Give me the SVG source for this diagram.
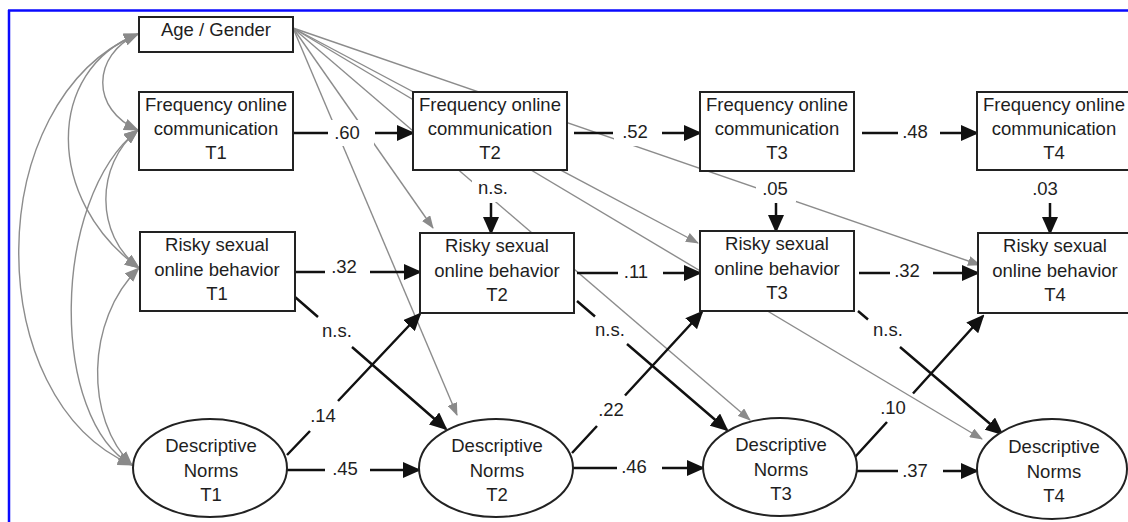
<svg xmlns="http://www.w3.org/2000/svg" width="1128" height="522" viewBox="0 0 1128 522">
<style>
.box{fill:#fff;stroke:#222;stroke-width:2}
.t{font-family:"Liberation Sans",Arial,sans-serif;font-size:18.5px;fill:#1e1e1e;text-anchor:middle}
.b{fill:none;stroke:#111;stroke-width:2.5;marker-end:url(#ab)}
.g{fill:none;stroke:#8c8c8c;stroke-width:1.4;marker-end:url(#ag)}
.c{fill:none;stroke:#8c8c8c;stroke-width:1.4;marker-start:url(#ac);marker-end:url(#ac)}
.bg{fill:#fff}
</style>
<defs>
<marker id="ab" viewBox="0 0 18 16" markerWidth="18" markerHeight="16" refX="16" refY="8" orient="auto" markerUnits="userSpaceOnUse"><path d="M0,0 L18,8 L0,16 z" fill="#111"/></marker>
<marker id="ag" viewBox="0 0 13 10" markerWidth="13" markerHeight="10" refX="12" refY="5" orient="auto" markerUnits="userSpaceOnUse"><path d="M0,0 L13,5 L0,10 z" fill="#8a8a8a"/></marker>
<marker id="ac" viewBox="0 0 15 12" markerWidth="15" markerHeight="12" refX="14" refY="6" orient="auto-start-reverse" markerUnits="userSpaceOnUse"><path d="M0,0 L15,6 L0,12 z" fill="#8a8a8a"/></marker>
</defs>
<rect width="1128" height="522" fill="#fff"/>
<path d="M8,10.5 H1128 M9,10 V522" fill="none" stroke="#0a0aff" stroke-width="2.5"/>
<g id="connectors">
  <path class="c" d="M138,34 C91,55 91,110 138,130"/>
  <path class="c" d="M138,34 C45,70 45,200 139,268"/>
  <path class="c" d="M138,34 C-20,100 -20,400 132,465"/>
  <path class="c" d="M138,130 C95,165 95,235 139,268"/>
  <path class="c" d="M138,130 C50,200 50,420 132,465"/>
  <path class="c" d="M139,268 C85,320 85,420 132,465"/>
  <path class="g" d="M293,28 L433,228"/>
  <path class="g" d="M293,28 L457,415"/>
  <path class="g" d="M293,28 L698,243"/>
  <path class="g" d="M293,28 L750,420"/>
  <path class="g" d="M293,28 L980,265"/>
  <path class="g" d="M293,28 L982,439"/>
  <rect class="bg" x="329" y="120" width="45" height="26"/>
  <rect class="bg" x="614" y="120" width="47" height="26"/>
  <rect class="bg" x="472" y="176" width="42" height="26"/>
  <rect class="bg" x="756" y="176" width="40" height="26"/>
  <path class="b" d="M293,133 H328 M375,133 H413"/>
  <path class="b" d="M574,133 H613 M662,133 H700"/>
  <path class="b" d="M862,133 H898 M940,133 H977"/>
  <path class="b" d="M295,272 H325 M370,272 H420"/>
  <path class="b" d="M577,273 H618 M663,273 H700"/>
  <path class="b" d="M859,273 H890 M933,273 H978"/>
  <path class="b" d="M287,470 H325 M370,470 H419"/>
  <path class="b" d="M573,468 H617 M662,468 H703"/>
  <path class="b" d="M857,471 H898 M943,471 H977"/>
  <path class="b" d="M491,203 V233"/>
  <path class="b" d="M776,203 V231"/>
  <path class="b" d="M1050,203 V233"/>
  <path class="b" d="M295,297 L318,317 M352,347 L446,429"/>
  <path class="b" d="M287,455 L310,431 M338,401 L420,314"/>
  <path class="b" d="M577,301 L595,316.5 M627,344 L727,430"/>
  <path class="b" d="M572,453 L597,426 M625,395.5 L702,312"/>
  <path class="b" d="M858,311 L868,319.5 M900,347 L1002,434"/>
  <path class="b" d="M855,457 L887,422 M913,393.5 L983,316"/>
  <text class="t" x="347" y="139">.60</text>
  <text class="t" x="635" y="138">.52</text>
  <text class="t" x="915" y="138">.48</text>
  <text class="t" x="344" y="273">.32</text>
  <text class="t" x="636" y="278">.11</text>
  <text class="t" x="907" y="277">.32</text>
  <text class="t" x="345" y="475">.45</text>
  <text class="t" x="634" y="473">.46</text>
  <text class="t" x="915" y="477">.37</text>
  <text class="t" x="493" y="194">n.s.</text>
  <text class="t" x="775" y="195">.05</text>
  <text class="t" x="1045" y="195">.03</text>
  <text class="t" x="337" y="337">n.s.</text>
  <text class="t" x="323" y="422">.14</text>
  <text class="t" x="610" y="336">n.s.</text>
  <text class="t" x="611" y="416">.22</text>
  <text class="t" x="888" y="336">n.s.</text>
  <text class="t" x="893" y="414">.10</text>
</g>
<g id="age-gender"><rect class="box" x="139" y="17" width="154" height="35"/><text class="t" x="216" y="36">Age / Gender</text></g>
<g id="freq-t1"><rect class="box" x="139" y="92" width="154" height="78"/><text class="t" x="216" y="111">Frequency online</text><text class="t" x="216" y="135">communication</text><text class="t" x="216" y="159">T1</text></g>
<g id="freq-t2"><rect class="box" x="413" y="92" width="154" height="78"/><text class="t" x="490" y="111">Frequency online</text><text class="t" x="490" y="135">communication</text><text class="t" x="490" y="159">T2</text></g>
<g id="freq-t3"><rect class="box" x="700" y="92" width="154" height="79"/><text class="t" x="777" y="111">Frequency online</text><text class="t" x="777" y="135">communication</text><text class="t" x="777" y="159">T3</text></g>
<g id="freq-t4"><rect class="box" x="977" y="92" width="154" height="78"/><text class="t" x="1054" y="111">Frequency online</text><text class="t" x="1054" y="135">communication</text><text class="t" x="1054" y="159">T4</text></g>
<g id="risky-t1"><rect class="box" x="140" y="232" width="155" height="79"/><text class="t" x="217" y="251">Risky sexual</text><text class="t" x="217" y="276">online behavior</text><text class="t" x="217" y="300">T1</text></g>
<g id="risky-t2"><rect class="box" x="420" y="233" width="154" height="80"/><text class="t" x="497" y="252">Risky sexual</text><text class="t" x="497" y="277">online behavior</text><text class="t" x="497" y="301">T2</text></g>
<g id="risky-t3"><rect class="box" x="700" y="231" width="154" height="80"/><text class="t" x="777" y="250">Risky sexual</text><text class="t" x="777" y="275">online behavior</text><text class="t" x="777" y="299">T3</text></g>
<g id="risky-t4"><rect class="box" x="978" y="233" width="154" height="80"/><text class="t" x="1055" y="252">Risky sexual</text><text class="t" x="1055" y="277">online behavior</text><text class="t" x="1055" y="301">T4</text></g>
<g id="norms-t1"><ellipse class="box" cx="210" cy="468" rx="77" ry="49"/><text class="t" x="211" y="452">Descriptive</text><text class="t" x="211" y="477">Norms</text><text class="t" x="211" y="501">T1</text></g>
<g id="norms-t2"><ellipse class="box" cx="496" cy="468" rx="77" ry="49"/><text class="t" x="497" y="452">Descriptive</text><text class="t" x="497" y="477">Norms</text><text class="t" x="497" y="501">T2</text></g>
<g id="norms-t3"><ellipse class="box" cx="780" cy="467" rx="77" ry="49"/><text class="t" x="781" y="451">Descriptive</text><text class="t" x="781" y="476">Norms</text><text class="t" x="781" y="500">T3</text></g>
<g id="norms-t4"><ellipse class="box" cx="1052" cy="469" rx="75" ry="50"/><text class="t" x="1054" y="453">Descriptive</text><text class="t" x="1054" y="478">Norms</text><text class="t" x="1054" y="502">T4</text></g>
</svg>
